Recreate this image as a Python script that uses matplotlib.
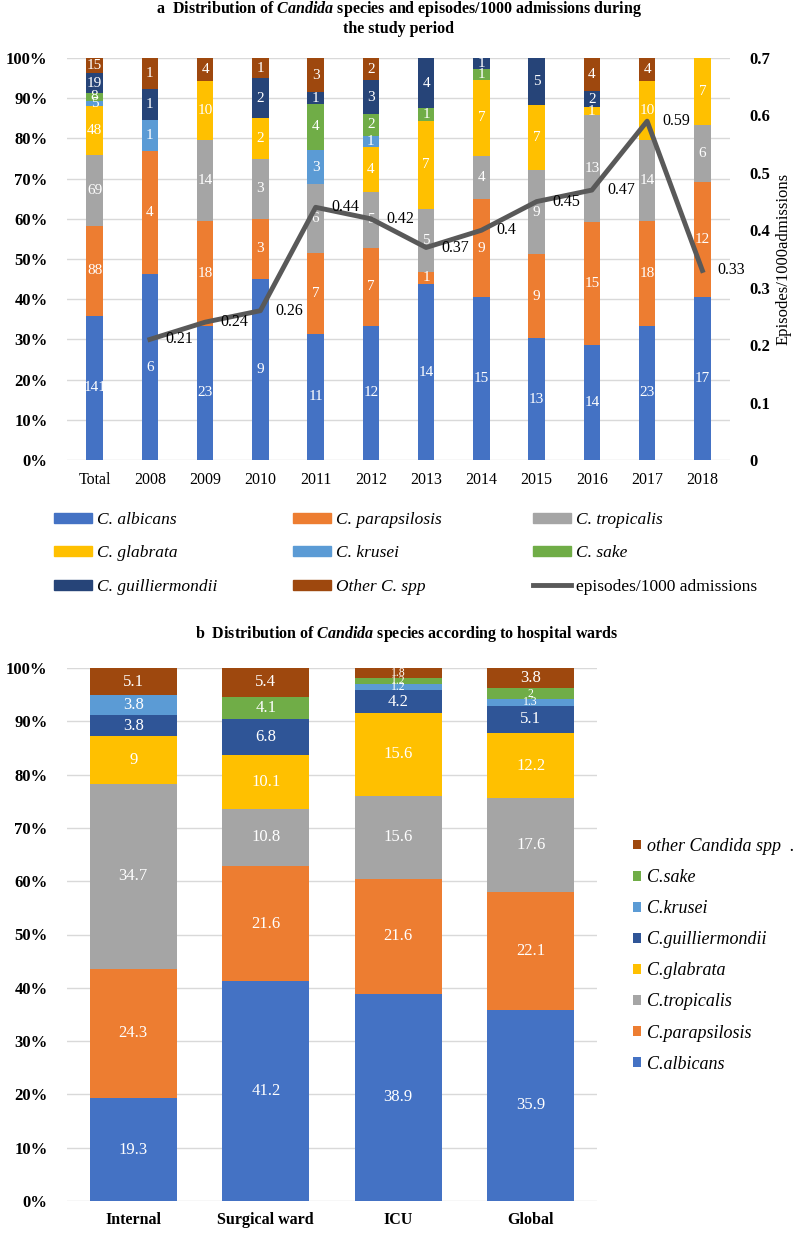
import matplotlib
matplotlib.use('Agg')
import matplotlib.pyplot as plt
from matplotlib.patches import Patch
from matplotlib.lines import Line2D
import numpy as np

plt.rcParams['font.family'] = ['Liberation Serif', 'DejaVu Serif']
plt.rcParams['mathtext.fontset'] = 'custom'
plt.rcParams['mathtext.rm'] = 'Liberation Serif:bold'
plt.rcParams['mathtext.it'] = 'Liberation Serif:italic:bold'

# panel a: counts per year
years = ['Total', '2008', '2009', '2010', '2011', '2012', '2013', '2014', '2015', '2016', '2017', '2018']
albicans = [141, 6, 23, 9, 11, 12, 14, 15, 13, 14, 23, 17]
parapsilosis = [88, 4, 18, 3, 7, 7, 1, 9, 9, 15, 18, 12]
tropicalis = [69, 0, 14, 3, 6, 5, 5, 4, 9, 13, 14, 6]
glabrata = [48, 0, 10, 2, 0, 4, 7, 7, 7, 1, 10, 7]
krusei = [5, 1, 0, 0, 3, 1, 0, 0, 0, 0, 0, 0]
sake = [8, 0, 0, 0, 4, 2, 1, 1, 0, 0, 0, 0]
guilliermondii = [19, 1, 0, 2, 1, 3, 4, 1, 5, 2, 0, 0]
other = [15, 1, 4, 1, 3, 2, 0, 0, 0, 4, 4, 0]
episodes = [0.21, 0.24, 0.26, 0.44, 0.42, 0.37, 0.4, 0.45, 0.47, 0.59, 0.33]

# panel b: percent per ward
wards = ['Internal', 'Surgical ward', 'ICU', 'Global']
b_albicans = [19.3, 41.2, 38.9, 35.9]
b_parapsilosis = [24.3, 21.6, 21.6, 22.1]
b_tropicalis = [34.7, 10.8, 15.6, 17.6]
b_glabrata = [9, 10.1, 15.6, 12.2]
b_guilliermondii = [3.8, 6.8, 4.2, 5.1]
b_krusei = [3.8, 0, 1.2, 1.3]
b_sake = [0, 4.1, 1.2, 2]
b_other = [5.1, 5.4, 1.8, 3.8]

c_alb = '#4472C4'
c_para = '#ED7D31'
c_trop = '#A5A5A5'
c_glab = '#FFC000'
c_kru = '#5B9BD5'
c_sake = '#70AD47'
c_guil = '#264478'
c_guil_b = '#2F5597'
c_oth = '#9E480E'
c_line = '#595959'

W, H = 797, 1235
fig = plt.figure(figsize=(7.97, 12.35), dpi=100)

def style_axis(ax):
    for s in ax.spines.values():
        s.set_visible(False)
    ax.yaxis.grid(True, color='#D9D9D9', lw=1)
    ax.set_axisbelow(True)
    ax.tick_params(length=0)

# ---------- panel a ----------
ax = fig.add_axes([67 / W, 1 - 460 / H, (730 - 67) / W, (460 - 58) / H])
style_axis(ax)
series_a = [
    ('C. albicans', albicans, c_alb),
    ('C. parapsilosis', parapsilosis, c_para),
    ('C. tropicalis', tropicalis, c_trop),
    ('C. glabrata', glabrata, c_glab),
    ('C. krusei', krusei, c_kru),
    ('C. sake', sake, c_sake),
    ('C. guilliermondii', guilliermondii, c_guil),
    ('Other C. spp', other, c_oth),
]
counts = np.array([s[1] for s in series_a], dtype=float)
totals = counts.sum(axis=0)
x = np.arange(len(years))
bottom = np.zeros(len(years))
for (name, vals, col), row in zip(series_a, counts):
    pct = row / totals * 100
    ax.bar(x, pct, 0.3, bottom=bottom, color=col, label=name)
    for xi, b, p, v in zip(x, bottom, pct, row):
        if v > 0:
            ax.text(xi, b + p / 2, '%d' % v, ha='center', va='center', color='white', fontsize=11)
    bottom += pct
ax.set_xlim(-0.5, len(years) - 0.5)
ax.set_ylim(0, 100)
ax.set_yticks(np.arange(0, 101, 10))
ax.set_yticklabels(['%d%%' % v for v in range(0, 101, 10)], fontweight='bold', fontsize=12)
ax.set_xticks(x)
ax.set_xticklabels(years, fontsize=11.5)
ax.tick_params(axis='y', pad=14)
ax.tick_params(axis='x', pad=9)

ax2 = ax.twinx()
for s in ax2.spines.values():
    s.set_visible(False)
ax2.tick_params(length=0, pad=14)
ax2.plot(x[1:], episodes, color=c_line, lw=3.5)
for xi, v in zip(x[1:], episodes):
    ax2.annotate('%g' % v, (xi, v), xytext=(11, 0), textcoords='offset points',
                 ha='left', va='center', fontsize=11.5)
ax2.set_ylim(0, 0.7)
ax2.set_yticks(np.arange(0, 0.71, 0.1))
ax2.set_yticklabels(['%g' % round(v, 1) for v in np.arange(0, 0.71, 0.1)], fontweight='bold', fontsize=12)
ax2.set_ylabel('Episodes/1000admissions', fontsize=12, labelpad=4)

fig.text(0.5, 1 - 9 / H,
         r'a  Distribution of $\mathit{Candida}$ species and episodes/1000 admissions during',
         ha='center', va='center', fontweight='bold', fontsize=11.5)
fig.text(0.5, 1 - 29 / H, 'the study period', ha='center', va='center',
         fontweight='bold', fontsize=11.5)

line_handle = Line2D([], [], color=c_line, lw=3.5)
colour_of = dict((s[0], s[2]) for s in series_a)
cols = [
    ['C. albicans', 'C. glabrata', 'C. guilliermondii'],
    ['C. parapsilosis', 'C. krusei', 'Other C. spp'],
    ['C. tropicalis', 'C. sake', None],
]
col_x = [54, 293, 533]
for names, cx in zip(cols, col_x):
    hs, ls = [], []
    for n in names:
        if n is None:
            hs.append(line_handle)
            ls.append('episodes/1000 admissions')
        else:
            hs.append(Patch(color=colour_of[n]))
            ls.append(n)
    leg = fig.legend(hs, ls, loc='upper left', bbox_to_anchor=(cx / W, 1 - 512 / H),
                     frameon=False, fontsize=12.5, handlelength=2.2, handleheight=0.5,
                     handletextpad=0.3, labelspacing=1.0, borderpad=0, borderaxespad=0)
    for t, n in zip(leg.get_texts(), names):
        if n is not None:
            t.set_fontstyle('italic')

# ---------- panel b ----------
bx = fig.add_axes([67 / W, 1 - 1201 / H, (597 - 67) / W, (1201 - 668) / H])
style_axis(bx)
series_b = [
    ('C.albicans', b_albicans, c_alb),
    ('C.parapsilosis', b_parapsilosis, c_para),
    ('C.tropicalis', b_tropicalis, c_trop),
    ('C.glabrata', b_glabrata, c_glab),
    ('C.guilliermondii', b_guilliermondii, c_guil_b),
    ('C.krusei', b_krusei, c_kru),
    ('C.sake', b_sake, c_sake),
    ('other Candida spp  .', b_other, c_oth),
]
vals_b = np.array([s[1] for s in series_b], dtype=float)
tot_b = vals_b.sum(axis=0)
xb = np.arange(len(wards))
bottom = np.zeros(len(wards))
hb = []
for (name, vals, col), row in zip(series_b, vals_b):
    pct = row / tot_b * 100
    hb.append(bx.bar(xb, pct, 0.66, bottom=bottom, color=col, label=name))
    for xi, b, p, v in zip(xb, bottom, pct, row):
        if v > 0:
            fs = 12 if v >= 3.5 else 8.5
            bx.text(xi, b + p / 2, '%g' % v, ha='center', va='center', color='white', fontsize=fs)
    bottom += pct
bx.set_xlim(-0.5, len(wards) - 0.5)
bx.set_ylim(0, 100)
bx.set_yticks(np.arange(0, 101, 10))
bx.set_yticklabels(['%d%%' % v for v in range(0, 101, 10)], fontweight='bold', fontsize=12)
bx.set_xticks(xb)
bx.set_xticklabels(wards, fontweight='bold', fontsize=11.5)
bx.tick_params(axis='y', pad=14)
bx.tick_params(axis='x', pad=8)

legb = fig.legend(hb[::-1], [s[0] for s in series_b][::-1], loc='upper left',
                  bbox_to_anchor=(633 / W, 1 - 838 / H), frameon=False, fontsize=13,
                  handlelength=0.45, handleheight=0.45, handletextpad=0.3,
                  labelspacing=0.78, borderpad=0, borderaxespad=0)
for t in legb.get_texts():
    t.set_fontstyle('italic')

fig.text(0.51, 1 - 634 / H,
         r'b  Distribution of $\mathit{Candida}$ species according to hospital wards',
         ha='center', va='center', fontweight='bold', fontsize=11.5)

fig.savefig('out.png', dpi=100)
